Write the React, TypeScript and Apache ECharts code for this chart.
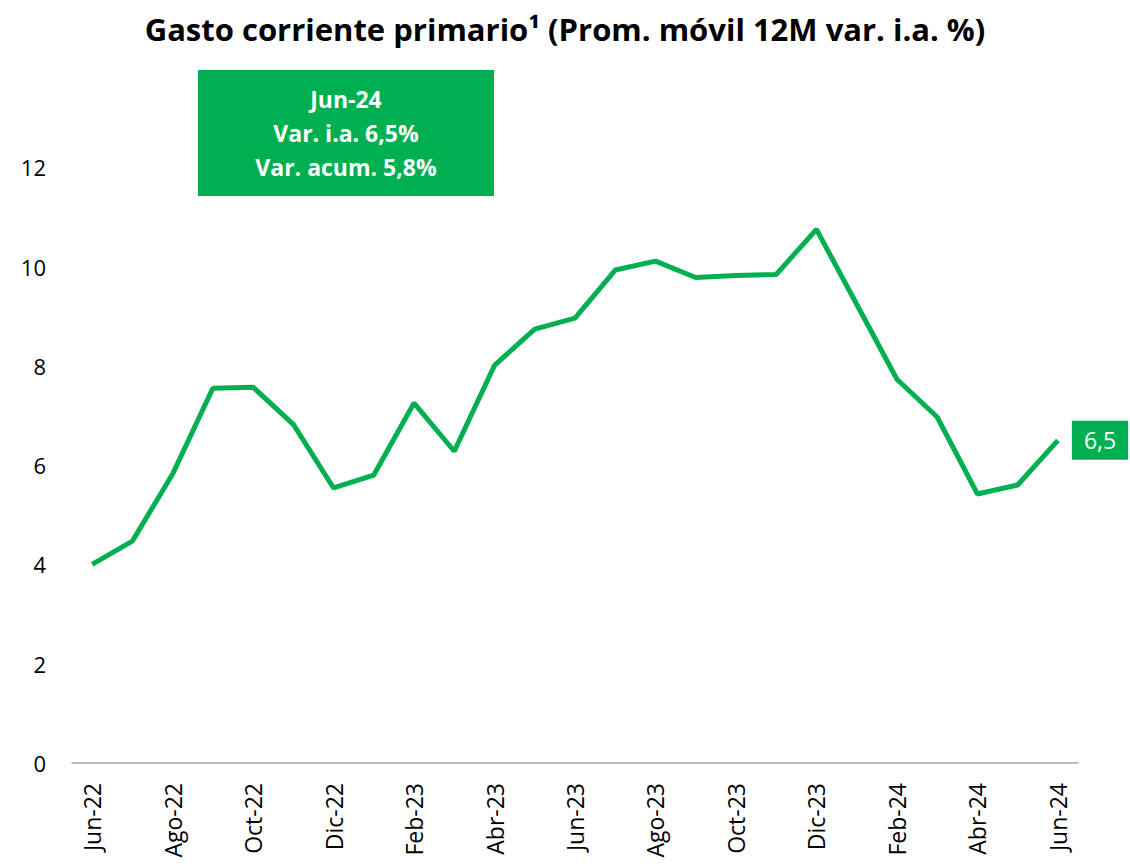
import React, { useEffect, useRef } from "react";
import * as echarts from "echarts";

const months = [
  "Jun-22", "Jul-22", "Ago-22", "Sep-22", "Oct-22", "Nov-22", "Dic-22",
  "Ene-23", "Feb-23", "Mar-23", "Abr-23", "May-23", "Jun-23", "Jul-23",
  "Ago-23", "Sep-23", "Oct-23", "Nov-23", "Dic-23", "Ene-24", "Feb-24",
  "Mar-24", "Abr-24", "May-24", "Jun-24",
];
const gasto = [
  4.0, 4.47, 5.82, 7.55, 7.57, 6.82, 5.54, 5.8, 7.25, 6.28, 8.01, 8.74, 8.96,
  9.93, 10.11, 9.78, 9.82, 9.84, 10.75, 9.24, 7.73, 6.97, 5.42, 5.6, 6.5,
];
const boxLines = ["Jun-24", "Var. i.a. 6,5%", "Var. acum. 5,8%"];
const titleText = "Gasto corriente primario¹ (Prom. móvil 12M var. i.a. %)";

const GREEN = "#00B050";
const FONT = "'Open Sans', 'Noto Sans', sans-serif";

export default function App() {
  const ref = useRef<HTMLDivElement>(null);
  useEffect(() => {
    if (!ref.current) return;
    const chart = echarts.init(ref.current, undefined, { renderer: "svg" });
    const last = gasto.length - 1;
    chart.setOption({
      animation: false,
      backgroundColor: "#fff",
      textStyle: { fontFamily: FONT },
      title: {
        text: titleText,
        left: "center",
        top: 8,
        textStyle: { fontFamily: FONT, fontSize: 31, fontWeight: "bold", color: "#000" },
      },
      grid: { left: 72, right: 52, top: 68, bottom: 101, containLabel: false },
      xAxis: {
        type: "category",
        data: months,
        boundaryGap: true,
        axisLine: { lineStyle: { color: "#a6a6a6", width: 1.5 } },
        axisTick: { show: false },
        axisLabel: {
          rotate: 90,
          interval: 1,
          fontSize: 23,
          color: "#000",
          fontFamily: FONT,
          margin: 20,
        },
      },
      yAxis: {
        type: "value",
        min: 0,
        max: 14,
        interval: 2,
        splitLine: { show: false },
        axisLine: { show: false },
        axisTick: { show: false },
        axisLabel: {
          fontSize: 22,
          color: "#000",
          fontFamily: FONT,
          margin: 26,
          formatter: (v: number) => (v === 14 ? "" : String(v)),
        },
      },
      series: [
        {
          type: "line",
          data: gasto.map((v, i) =>
            i === last
              ? {
                  value: v,
                  label: {
                    show: true,
                    position: "right",
                    distance: 14,
                    formatter: (p: any) => String(p.value).replace(".", ","),
                    backgroundColor: GREEN,
                    color: "#fff",
                    fontSize: 23,
                    fontFamily: FONT,
                    padding: [8, 12, 8, 12],
                  },
                }
              : v
          ),
          symbol: "circle",
          symbolSize: 0,
          showSymbol: true,
          lineStyle: { color: GREEN, width: 5 },
          itemStyle: { color: GREEN },
        },
      ],
      graphic: [
        {
          type: "group",
          left: 198,
          top: 70,
          children: [
            { type: "rect", shape: { x: 0, y: 0, width: 296, height: 126 }, style: { fill: GREEN } },
            {
              type: "text",
              x: 148,
              y: 63,
              style: {
                text: boxLines.join("\n"),
                fill: "#fff",
                font: `bold 23px ${FONT}`,
                lineHeight: 34,
                align: "center",
                verticalAlign: "middle",
              },
            },
          ],
        },
      ],
    });
    return () => chart.dispose();
  }, []);
  return (
    <div
      ref={ref}
      style={{ position: "fixed", left: 0, top: 0, width: 1130, height: 864 }}
    />
  );
}
